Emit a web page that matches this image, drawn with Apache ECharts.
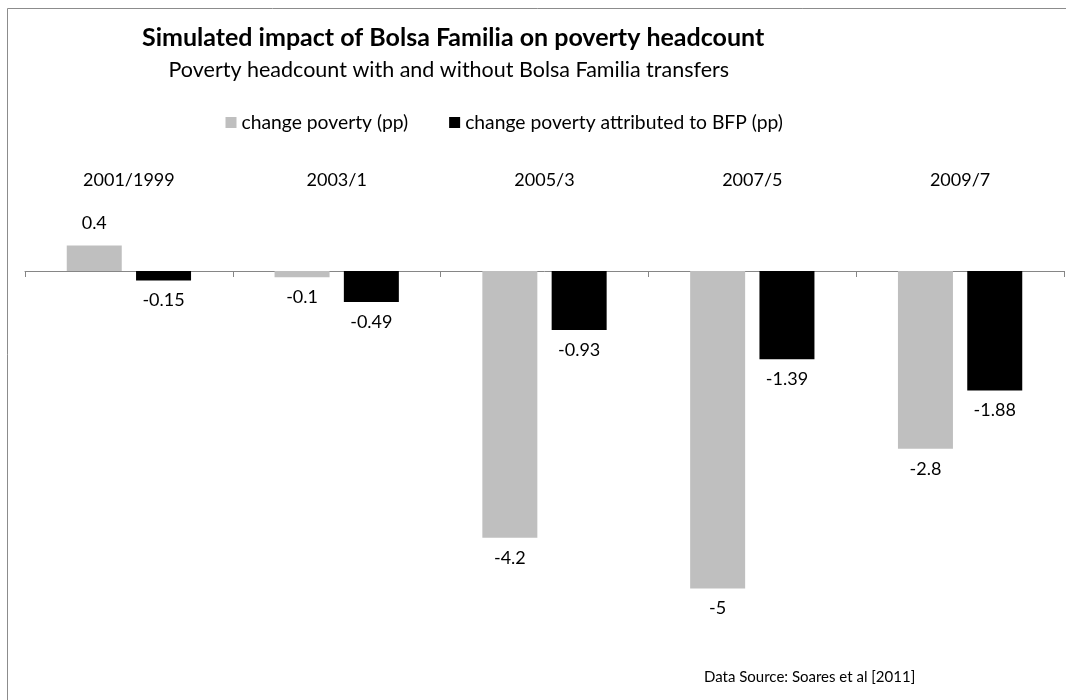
<!DOCTYPE html>
<html>
<head>
<meta charset="utf-8">
<script src="https://cdn.jsdelivr.net/npm/echarts@6/dist/echarts.min.js"></script>
<style>
html,body{margin:0;padding:0;background:#fff;overflow:hidden;}
#chart{width:1066px;height:700px;}
</style>
</head>
<body>
<div id="chart"></div>
<script>
var categories = ['2001/1999', '2003/1', '2005/3', '2007/5', '2009/7'];
var changePoverty = [0.4, -0.1, -4.2, -5, -2.8];
var changeBFP = [-0.15, -0.49, -0.93, -1.39, -1.88];
var seriesNames = ['change poverty (pp)', 'change poverty attributed to BFP (pp)'];
var titleText = 'Simulated impact of Bolsa Familia on poverty headcount';
var subtitleText = 'Poverty headcount with and without Bolsa Familia transfers';
var sourceText = 'Data Source: Soares et al [2011]';

var FONT = 'Lato';

function withLabels(arr) {
  return arr.map(function (v) {
    return {
      value: v,
      label: { position: v < 0 ? 'bottom' : 'top', distance: v < 0 ? 11 : 13 }
    };
  });
}

var chart = echarts.init(document.getElementById('chart'));
chart.setOption({
  backgroundColor: '#ffffff',
  animation: false,
  textStyle: { fontFamily: FONT },
  graphic: [{
    type: 'rect',
    shape: { x: 7.5, y: 8.5, width: 1100, height: 800 },
    style: { fill: null, stroke: '#8c8c8c', lineWidth: 1 },
    silent: true,
    z: -1
  }],
  title: [
    { text: titleText, left: 142, top: 25.5, padding: 0,
      textStyle: { fontFamily: FONT, fontSize: 25, fontWeight: 'bold', color: '#000' } },
    { text: subtitleText, left: 168.5, top: 59, padding: 0,
      textStyle: { fontFamily: FONT, fontSize: 21.5, fontWeight: 'normal', color: '#000' } },
    { text: sourceText, left: 704, top: 670, padding: 0,
      textStyle: { fontFamily: FONT, fontSize: 15, fontWeight: 'normal', color: '#000' } }
  ],
  legend: {
    left: 225.5, top: 113, padding: 0,
    icon: 'rect', itemWidth: 11, itemHeight: 11, itemGap: 41,
    textStyle: { fontFamily: FONT, fontSize: 19.3, color: '#000' },
    data: seriesNames
  },
  grid: { left: 25, top: 207.5, width: 1039, height: 444.5, containLabel: false },
  xAxis: [{
    type: 'category', data: categories,
    axisLine: { onZero: true, lineStyle: { color: '#868686', width: 1 } },
    axisTick: { show: true, length: 6, lineStyle: { color: '#868686' } },
    axisLabel: { show: false },
    splitLine: { show: false }
  }, {
    type: 'category', data: categories, position: 'top',
    axisLine: { show: false }, axisTick: { show: false },
    axisLabel: { show: true, margin: 18, fontFamily: FONT, fontSize: 18, color: '#000' }
  }],
  yAxis: {
    type: 'value', min: -6, max: 1, show: false,
    splitLine: { show: false }
  },
  series: [{
    name: seriesNames[0], type: 'bar', data: withLabels(changePoverty),
    barWidth: 55, barGap: '26%',
    itemStyle: { color: '#bfbfbf' },
    label: { show: true, fontFamily: FONT, fontSize: 18, color: '#000' }
  }, {
    name: seriesNames[1], type: 'bar', data: withLabels(changeBFP),
    barWidth: 55, barGap: '26%',
    itemStyle: { color: '#000000' },
    label: { show: true, fontFamily: FONT, fontSize: 18, color: '#000' }
  }]
});
</script>
</body>
</html>
